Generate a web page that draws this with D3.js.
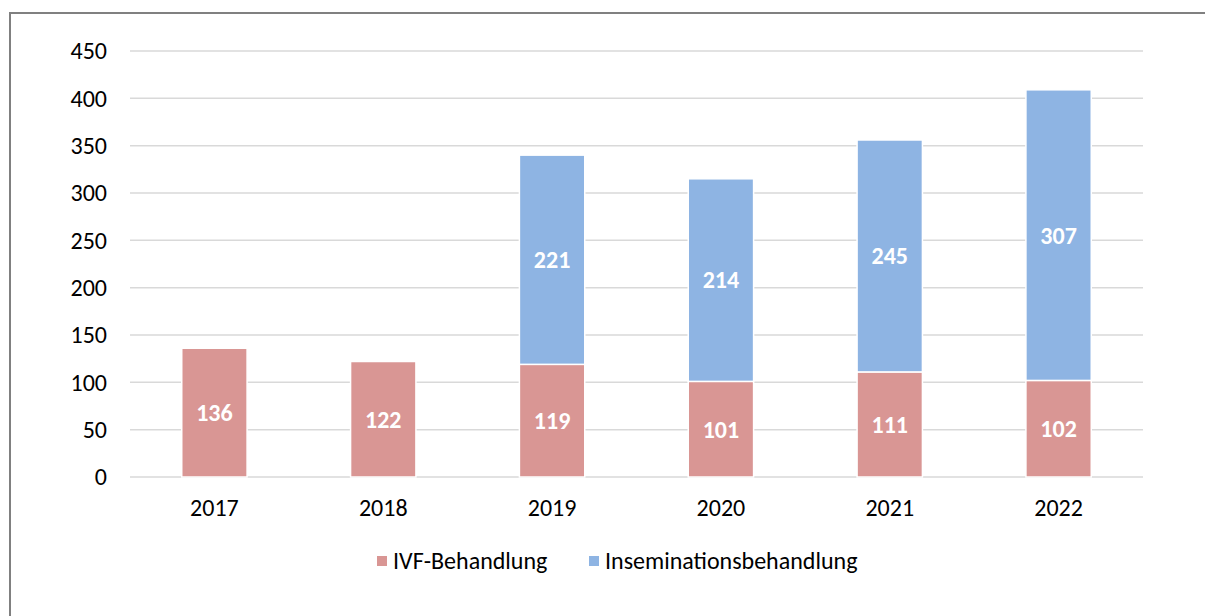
<!DOCTYPE html>
<html>
<head>
<meta charset="utf-8">
<script src="https://cdn.jsdelivr.net/npm/d3@7"></script>
<style>
  body { margin: 0; background: #fff; }
  svg { display: block; }
</style>
</head>
<body>
<script>
// Width and height
var w = 1205;
var h = 616;

var years = ["2017", "2018", "2019", "2020", "2021", "2022"];
var ivf = [136, 122, 119, 101, 111, 102];
var insemination = [0, 0, 221, 214, 245, 307];
var seriesNames = ["IVF-Behandlung", "Inseminationsbehandlung"];
var colors = ["#D99694", "#8EB4E3"];
var yTicks = [0, 50, 100, 150, 200, 250, 300, 350, 400, 450];

var font = "Carlito, Calibri, 'Open Sans', sans-serif";
var fs = "24px";

var table = years.map(function(y, i) {
  return { year: y, ivf: ivf[i], ins: insemination[i] };
});

var stack = d3.stack().keys(["ivf", "ins"]);
var series = stack(table);

var xScale = d3.scaleBand()
  .domain(years)
  .range([130, 1143])
  .paddingInner(0.613)
  .paddingOuter(0.3065);

var yScale = d3.scaleLinear()
  .domain([0, 450])
  .range([477, 51]);

var svg = d3.select("body")
  .append("svg")
  .attr("width", w)
  .attr("height", h);

// chart frame (runs off the right and bottom edge)
svg.append("rect")
  .attr("x", 10)
  .attr("y", 13)
  .attr("width", 1220)
  .attr("height", 640)
  .attr("fill", "none")
  .attr("stroke", "#808080")
  .attr("stroke-width", 2);

// gridlines
svg.append("g")
  .selectAll("line")
  .data(yTicks)
  .enter()
  .append("line")
  .attr("x1", 130)
  .attr("x2", 1143)
  .attr("y1", d => yScale(d))
  .attr("y2", d => yScale(d))
  .attr("stroke", "#D9D9D9")
  .attr("stroke-width", 1.5);

// y axis labels
var yAxis = d3.axisLeft(yScale)
  .tickValues(yTicks)
  .tickSize(0)
  .tickPadding(0);

var yG = svg.append("g")
  .attr("transform", "translate(107,0)")
  .call(yAxis);
yG.select(".domain").remove();
yG.selectAll("text")
  .attr("font-family", font)
  .attr("font-size", fs)
  .attr("fill", "#000");

// x axis labels
var xAxis = d3.axisBottom(xScale).tickSize(0).tickPadding(0);
var xG = svg.append("g")
  .attr("transform", "translate(0,499)")
  .call(xAxis);
xG.select(".domain").remove();
xG.selectAll("text")
  .attr("font-family", font)
  .attr("font-size", fs)
  .attr("fill", "#000");

// bars
var groups = svg.selectAll("g.series")
  .data(series)
  .enter()
  .append("g")
  .attr("class", "series")
  .attr("fill", (d, i) => colors[i]);

groups.selectAll("rect")
  .data(d => d.filter(p => p[1] - p[0] > 0))
  .enter()
  .append("rect")
  .attr("x", d => xScale(d.data.year))
  .attr("y", d => yScale(d[1]))
  .attr("width", xScale.bandwidth())
  .attr("height", d => yScale(d[0]) - yScale(d[1]))
  .attr("stroke", "#fff")
  .attr("stroke-width", 1.5);

// value labels
groups.selectAll("text")
  .data(d => d.filter(p => p[1] - p[0] > 0))
  .enter()
  .append("text")
  .attr("x", d => xScale(d.data.year) + xScale.bandwidth() / 2)
  .attr("y", d => yScale((d[0] + d[1]) / 2))
  .attr("dy", "0.35em")
  .attr("text-anchor", "middle")
  .attr("font-family", font)
  .attr("font-size", fs)
  .attr("font-weight", "bold")
  .attr("fill", "#fff")
  .text(d => d[1] - d[0]);

// legend
var legendX = [377, 589];
var legend = svg.selectAll("g.legend")
  .data(seriesNames)
  .enter()
  .append("g")
  .attr("class", "legend")
  .attr("transform", (d, i) => "translate(" + legendX[i] + ",556)");

legend.append("rect")
  .attr("width", 10)
  .attr("height", 10)
  .attr("fill", (d, i) => colors[i]);

legend.append("text")
  .attr("x", 16)
  .attr("y", 5)
  .attr("dy", "0.35em")
  .attr("font-family", font)
  .attr("font-size", fs)
  .attr("fill", "#000")
  .text(d => d);
</script>
</body>
</html>
